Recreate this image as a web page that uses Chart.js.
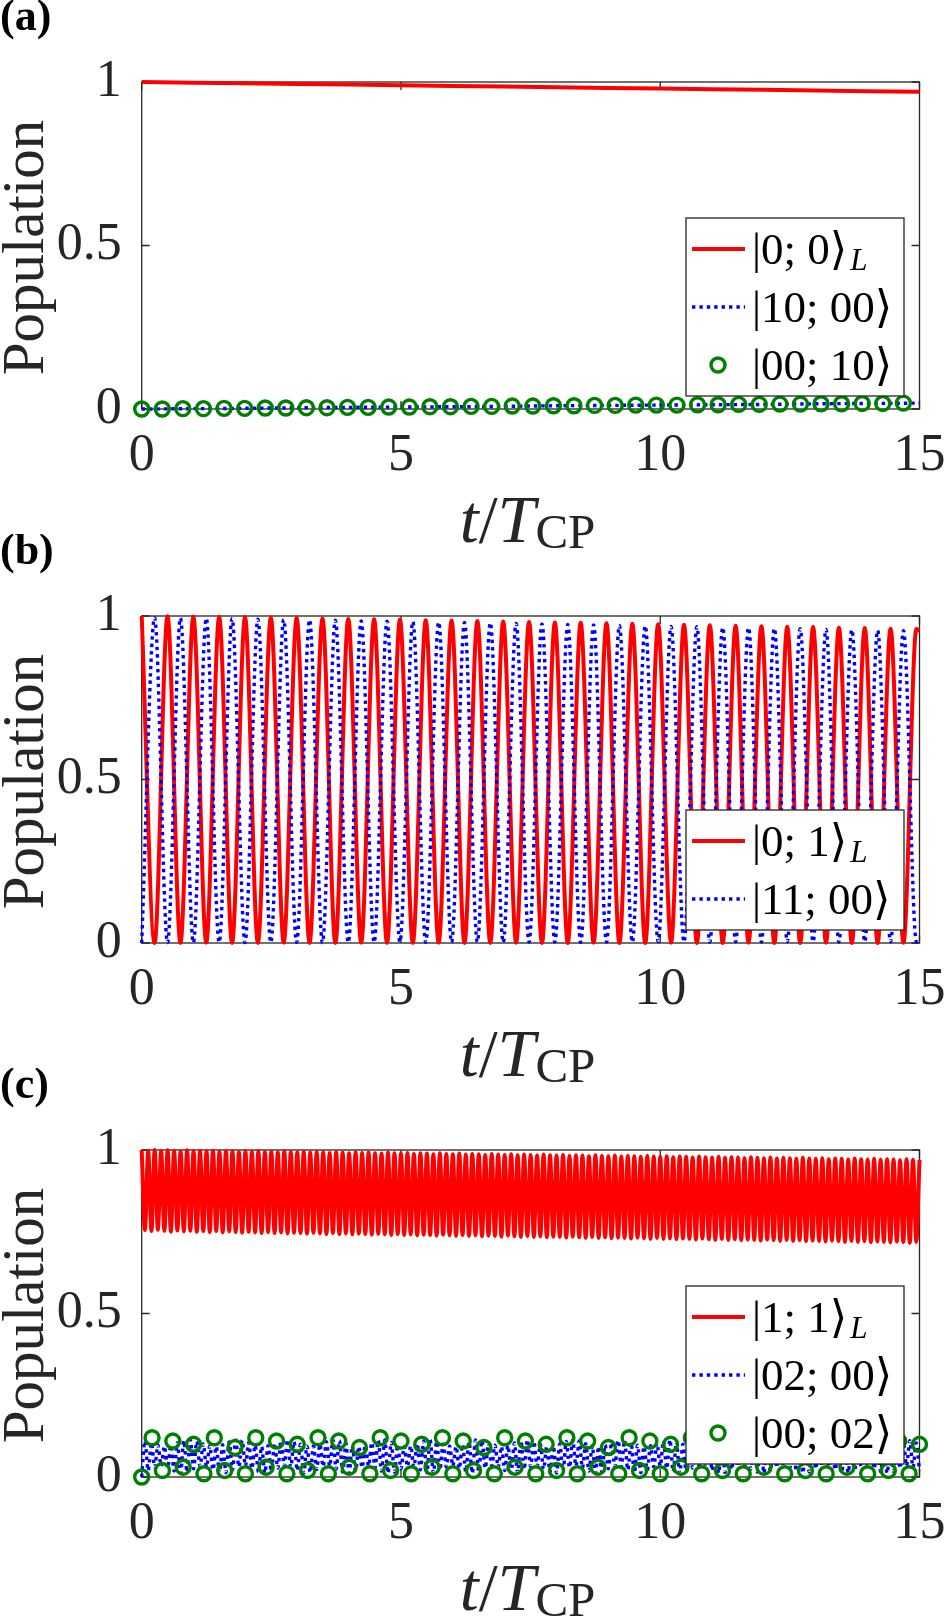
<!DOCTYPE html>
<html><head><meta charset="utf-8">
<script src="https://cdn.jsdelivr.net/npm/chart.js@4.4.0/dist/chart.umd.min.js"></script>
<style>
html,body{margin:0;padding:0;background:#fff;}
#wrap{position:relative;width:950px;height:1618px;overflow:hidden;background:#fff;}
canvas{position:absolute;left:0;}
</style></head><body>
<div id="wrap">
<canvas id="ca" width="950" height="580" style="top:0;width:950px;height:580px"></canvas>
<canvas id="cb" width="950" height="580" style="top:534px;width:950px;height:580px"></canvas>
<canvas id="cc" width="950" height="550" style="top:1068px;width:950px;height:550px"></canvas>
</div>
<script>
// ---------- axes ----------
const xTicks = [0, 5, 10, 15];
const xTickLabels = ['0', '5', '10', '15'];
const yTicks = [0, 0.5, 1];
const yTickLabels = ['0', '0.5', '1'];

// ---------- panel (a) ----------
const timeA = [0,1,2,3,4,5,6,7,8,9,10,11,12,13,14,15];
const redA  = [1.000,0.998,0.996,0.994,0.992,0.990,0.988,0.986,0.984,0.982,0.980,0.978,0.976,0.974,0.972,0.970];
const blueA = [0.000,0.001,0.002,0.004,0.005,0.006,0.007,0.008,0.010,0.011,0.012,0.013,0.014,0.016,0.017,0.018];
const greenStepA = 0.397;
const greenA = [0.000,0.000,0.001,0.001,0.002,0.002,0.003,0.003,0.004,0.004,0.005,0.005,0.006,0.006,0.007,0.007,0.008,0.008,0.009,0.009,
                0.010,0.010,0.011,0.011,0.012,0.012,0.012,0.013,0.013,0.014,0.014,0.015,0.015,0.016,0.016,0.017,0.017,0.018];

// ---------- panel (b) : extrema of the oscillation ----------
const halfPeriodB = 0.249;
const redPeaksB = [1.000,0.999,0.998,0.997,0.996,0.995,0.994,0.992,0.991,0.990,0.989,0.987,0.986,0.985,0.983,0.982,
                   0.980,0.979,0.978,0.976,0.975,0.973,0.972,0.970,0.969,0.967,0.966,0.964,0.963,0.961,0.960];
const redTroughsB = [0.000,0.000,0.001,0.000,0.000,0.001,0.000,0.000,0.001,0.000,0.000,0.001,0.000,0.000,0.001,
                     0.000,0.000,0.001,0.000,0.000,0.001,0.000,0.000,0.001,0.000,0.000,0.001,0.000,0.000,0.001];
const bluePeaksB = [0.995,0.994,0.993,0.992,0.990,0.989,0.988,0.987,0.985,0.984,0.983,0.981,0.980,0.979,0.977,
                    0.976,0.974,0.973,0.971,0.970,0.968,0.967,0.965,0.964,0.962,0.961,0.959,0.958,0.956,0.955];
const blueTroughsB = [0.000,0.001,0.001,0.002,0.001,0.002,0.002,0.001,0.002,0.002,0.003,0.002,0.002,0.003,0.002,0.003,
                      0.003,0.002,0.003,0.003,0.004,0.003,0.003,0.004,0.003,0.004,0.004,0.003,0.004,0.004,0.004];
const endTimeB = 15, endRedB = 0.955, endBlueB = 0.005;

// ---------- panel (c) : extrema of the oscillation ----------
const halfPeriodC = 0.0625;
const redPeaksC = [
1.000,0.998,1.000,0.997,0.999,0.998,0.996,0.999,0.997,0.998,
0.996,0.998,0.995,0.997,0.996,0.994,0.997,0.995,0.996,0.994,
0.995,0.993,0.996,0.994,0.993,0.995,0.992,0.994,0.993,0.991,
0.994,0.992,0.990,0.993,0.991,0.992,0.990,0.989,0.992,0.990,
0.989,0.991,0.988,0.990,0.989,0.987,0.990,0.988,0.987,0.989,
0.986,0.988,0.987,0.985,0.988,0.986,0.985,0.987,0.984,0.986,
0.985,0.983,0.986,0.984,0.983,0.985,0.982,0.984,0.983,0.981,
0.984,0.982,0.981,0.983,0.980,0.982,0.981,0.979,0.982,0.980,
0.979,0.981,0.978,0.980,0.979,0.977,0.980,0.978,0.977,0.979,
0.976,0.978,0.977,0.975,0.978,0.976,0.975,0.977,0.974,0.976,
0.975,0.973,0.976,0.974,0.973,0.975,0.972,0.974,0.973,0.971,
0.974,0.972,0.971,0.973,0.970,0.972,0.971,0.969,0.972,0.970,
0.970];
const redTroughsC = [
0.755,0.752,0.756,0.753,0.750,0.754,0.751,0.753,0.750,0.752,
0.749,0.752,0.748,0.751,0.749,0.747,0.750,0.748,0.746,0.749,
0.746,0.748,0.745,0.747,0.746,0.744,0.747,0.745,0.743,0.746,
0.743,0.745,0.742,0.744,0.743,0.741,0.744,0.742,0.740,0.743,
0.740,0.742,0.739,0.741,0.740,0.738,0.741,0.739,0.737,0.740,
0.737,0.739,0.736,0.738,0.737,0.735,0.738,0.736,0.734,0.737,
0.734,0.736,0.733,0.735,0.734,0.732,0.735,0.733,0.731,0.734,
0.731,0.733,0.730,0.732,0.731,0.729,0.732,0.730,0.728,0.731,
0.728,0.730,0.727,0.729,0.728,0.726,0.729,0.727,0.725,0.728,
0.725,0.727,0.724,0.726,0.725,0.723,0.726,0.724,0.722,0.725,
0.722,0.724,0.721,0.723,0.722,0.720,0.723,0.721,0.719,0.722,
0.719,0.721,0.718,0.720,0.719,0.717,0.720,0.718,0.716,0.719];
const blueLowC = [
0.000,0.020,0.030,0.034,0.028,0.018,0.012,0.015,0.025,0.033,
0.031,0.022,0.013,0.013,0.021,0.031,0.034,0.026,0.016,0.012,
0.017,0.027,0.034,0.030,0.020,0.012,0.014,0.023,0.032,0.033,
0.024,0.015,0.012,0.018,0.029,0.034,0.028,0.018,0.012,0.015,
0.025,0.033,0.031,0.022,0.013,0.013,0.021,0.031,0.034,0.026,
0.016,0.012,0.017,0.027,0.034,0.030,0.020,0.012,0.014,0.023,
0.032,0.033,0.024,0.015,0.012,0.018,0.029,0.034,0.028,0.018,
0.012,0.015,0.025,0.033,0.031,0.022,0.013,0.013,0.021,0.031,
0.034,0.026,0.016,0.012,0.017,0.027,0.034,0.030,0.020,0.012,
0.014,0.023,0.032,0.033,0.024,0.015,0.012,0.018,0.029,0.034,
0.028,0.018,0.012,0.015,0.025,0.033,0.031,0.022,0.013,0.013,
0.021,0.031,0.034,0.026,0.016,0.012,0.017,0.027,0.034,0.030,
0.020];
const blueHighC = [
0.110,0.105,0.098,0.094,0.097,0.104,0.111,0.114,0.109,0.101,
0.095,0.093,0.099,0.107,0.113,0.112,0.105,0.097,0.093,0.096,
0.103,0.110,0.114,0.108,0.100,0.094,0.094,0.100,0.108,0.113,
0.111,0.103,0.096,0.093,0.097,0.105,0.112,0.113,0.106,0.098,
0.093,0.095,0.102,0.110,0.114,0.109,0.101,0.095,0.093,0.099,
0.107,0.113,0.112,0.104,0.097,0.093,0.096,0.104,0.111,0.114,
0.108,0.100,0.094,0.094,0.101,0.109,0.113,0.110,0.102,0.095,
0.093,0.098,0.106,0.112,0.112,0.105,0.097,0.093,0.096,0.103,
0.110,0.114,0.108,0.100,0.094,0.095,0.101,0.109,0.113,0.110,
0.102,0.096,0.093,0.098,0.106,0.112,0.112,0.104,0.097,0.093,
0.097,0.104,0.111,0.113,0.107,0.099,0.094,0.095,0.102,0.110,
0.113,0.109,0.101,0.095,0.094,0.099,0.107,0.112,0.111,0.104];
const greenStepC = 0.2;
const greenC = [
0.00,0.12,0.02,0.11,0.03,0.10,0.01,0.12,0.02,0.09,
0.01,0.12,0.03,0.11,0.01,0.10,0.02,0.12,0.01,0.11,
0.03,0.09,0.01,0.12,0.02,0.11,0.01,0.10,0.03,0.12,
0.01,0.11,0.02,0.09,0.01,0.12,0.03,0.11,0.01,0.10,
0.02,0.12,0.01,0.11,0.03,0.09,0.01,0.12,0.02,0.11,
0.01,0.10,0.03,0.12,0.01,0.11,0.02,0.09,0.01,0.12,
0.03,0.11,0.01,0.10,0.02,0.12,0.01,0.11,0.03,0.09,
0.01,0.12,0.02,0.11,0.01,0.10];

// ---------- helpers ----------
const FONT = "'Liberation Serif','DejaVu Serif',serif";
const RED = '#ff0000', BLUE = '#0000ff', GREEN = '#008000', AX = '#262626';

function pairs(xs, ys){ return ys.map((v,i)=>({x:xs[i], y:v})); }
function stepped(step, ys){ return ys.map((v,i)=>({x:i*step, y:v})); }
// alternate "even" extrema (at 2k*h) and "odd" extrema (at (2k+1)*h)
function alternate(h, even, odd){
  const out = [];
  for (let k=0;k<even.length;k++){
    out.push({x:2*k*h, y:even[k]});
    if (k<odd.length) out.push({x:(2*k+1)*h, y:odd[k]});
  }
  return out;
}
function redSet(data, smooth){ return {data, showLine:true, borderColor:RED, borderWidth:4, pointRadius:0, clip:false, order:2,
  cubicInterpolationMode: smooth ? 'monotone' : 'default', tension:0}; }
function blueSet(data, smooth){ return {data, showLine:true, borderColor:BLUE, borderWidth:3.4, borderDash:[3.4,4], pointRadius:0, clip:false, order:1,
  cubicInterpolationMode: smooth ? 'monotone' : 'default', tension:0}; }
function greenSet(data){ return {data, showLine:false, pointRadius:7, pointBorderWidth:3.4, pointBorderColor:GREEN,
  pointBackgroundColor:'rgba(0,0,0,0)', pointStyle:'circle', clip:false, order:0}; }

function drawKet(ctx, x, y, main, sub){
  ctx.fillStyle = '#000';
  ctx.textBaseline = 'alphabetic';
  ctx.textAlign = 'left';
  ctx.font = "45px " + FONT;
  ctx.fillText(main, x, y + 15);
  if (sub){
    const w = ctx.measureText(main).width;
    ctx.font = "italic 31px " + FONT;
    ctx.fillText(sub, x + w + 3, y + 21);
  }
}

const decor = {
  id:'decor',
  beforeDatasetsDraw(chart){
    const {ctx, chartArea:a, scales:{x,y}} = chart;
    ctx.save();
    ctx.strokeStyle = AX; ctx.lineWidth = 1.3;
    ctx.strokeRect(a.left, a.top, a.right-a.left, a.bottom-a.top);
    ctx.beginPath();
    xTicks.forEach(v=>{ const p = x.getPixelForValue(v);
      ctx.moveTo(p, a.bottom); ctx.lineTo(p, a.bottom-8);
      ctx.moveTo(p, a.top); ctx.lineTo(p, a.top+8); });
    yTicks.forEach(v=>{ const p = y.getPixelForValue(v);
      ctx.moveTo(a.left, p); ctx.lineTo(a.left+8, p);
      ctx.moveTo(a.right, p); ctx.lineTo(a.right-8, p); });
    ctx.stroke();
    ctx.restore();
  },
  afterDraw(chart, args, opts){
    const {ctx, chartArea:a} = chart;
    ctx.save();
    // panel label
    ctx.fillStyle = '#000';
    ctx.font = "bold 44px " + FONT;
    ctx.textAlign = 'left'; ctx.textBaseline = 'alphabetic';
    ctx.fillText(opts.label, 0, a.top - 52);
    // y title
    ctx.save();
    ctx.translate(43, (a.top + a.bottom)/2 + 2);
    ctx.rotate(-Math.PI/2);
    ctx.font = "59px " + FONT;
    ctx.fillStyle = AX;
    ctx.textAlign = 'center';
    ctx.fillText('Population', 0, 0);
    ctx.restore();
    // x title  t/T_CP
    ctx.fillStyle = AX;
    const cx = (a.left + a.right)/2 - 3, by = a.bottom + 133;
    const parts = [
      {t:'t', f:"italic 68px "+FONT, dy:0},
      {t:'/', f:"68px "+FONT, dy:0},
      {t:'T', f:"italic 68px "+FONT, dy:0},
      {t:'CP', f:"49px "+FONT, dy:6}
    ];
    let total = 0;
    parts.forEach(p=>{ ctx.font = p.f; p.w = ctx.measureText(p.t).width; total += p.w; });
    let px = cx - total/2;
    ctx.textAlign = 'left';
    parts.forEach(p=>{ ctx.font = p.f; ctx.fillText(p.t, px, by + p.dy); px += p.w; });
    // legend
    const items = opts.items, n = items.length;
    const bw = 218, bh = 62 + (n-1)*58;
    const bx = a.right - 15.5 - bw, byb = a.bottom - 13 - bh;
    ctx.fillStyle = '#fff';
    ctx.fillRect(bx, byb, bw, bh);
    ctx.strokeStyle = AX; ctx.lineWidth = 1.3;
    ctx.strokeRect(bx, byb, bw, bh);
    items.forEach((it, i)=>{
      const ry = byb + 31 + i*58;
      ctx.save();
      if (it.type === 'line' || it.type === 'dot'){
        ctx.strokeStyle = it.color;
        ctx.lineWidth = it.type === 'line' ? 4 : 3.4;
        ctx.setLineDash(it.type === 'dot' ? [3.4,4] : []);
        ctx.beginPath(); ctx.moveTo(bx+6, ry); ctx.lineTo(bx+59, ry); ctx.stroke();
      } else {
        ctx.strokeStyle = it.color; ctx.lineWidth = 3.4;
        ctx.beginPath(); ctx.arc(bx+32, ry, 7, 0, Math.PI*2); ctx.stroke();
      }
      ctx.restore();
      drawKet(ctx, bx+66, ry, it.main, it.sub);
    });
    ctx.restore();
  }
};

function makeChart(id, datasets, items, label, bottomPad){
  return new Chart(document.getElementById(id), {
    type:'scatter',
    data:{datasets},
    options:{
      responsive:false, animation:false, devicePixelRatio:1,
      layout:{padding:{top:82, left:0, right:30.5, bottom:bottomPad}},
      plugins:{legend:{display:false}, tooltip:{enabled:false}, decor:{items, label}},
      scales:{
        x:{type:'linear', min:0, max:15,
           afterBuildTicks(s){ s.ticks = xTicks.map(v=>({value:v})); },
           afterFit(s){ s.height = 125; s.paddingLeft = 0; s.paddingRight = 0; },
           grid:{display:false, drawTicks:false}, border:{display:false},
           ticks:{font:{family:FONT, size:52}, color:AX, padding:16, maxRotation:0, autoSkip:false,
                  callback:(v)=>xTickLabels[xTicks.indexOf(v)]}},
        y:{type:'linear', min:0, max:1,
           afterBuildTicks(s){ s.ticks = yTicks.map(v=>({value:v})); },
           afterFit(s){ s.width = 141.7; s.paddingTop = 0; s.paddingBottom = 0; },
           grid:{display:false, drawTicks:false}, border:{display:false},
           ticks:{font:{family:FONT, size:52}, color:AX, padding:20, autoSkip:false,
                  callback:(v)=>yTickLabels[yTicks.indexOf(v)]}}
      }
    },
    plugins:[decor]
  });
}

const redB = alternate(halfPeriodB, redPeaksB, redTroughsB);
redB.push({x:endTimeB, y:endRedB});
const blueB = alternate(halfPeriodB, blueTroughsB, bluePeaksB);
blueB.push({x:endTimeB, y:endBlueB});

makeChart('ca', [
  redSet(pairs(timeA, redA), false),
  blueSet(pairs(timeA, blueA), false),
  greenSet(stepped(greenStepA, greenA))
], [
  {type:'line', color:RED, main:'|0; 0\u27E9', sub:'L'},
  {type:'dot', color:BLUE, main:'|10; 00\u27E9'},
  {type:'circle', color:GREEN, main:'|00; 10\u27E9'}
], '(a)', 46);

makeChart('cb', [
  redSet(redB, true),
  blueSet(blueB, true)
], [
  {type:'line', color:RED, main:'|0; 1\u27E9', sub:'L'},
  {type:'dot', color:BLUE, main:'|11; 00\u27E9'}
], '(b)', 46);

makeChart('cc', [
  redSet(alternate(halfPeriodC, redPeaksC, redTroughsC), true),
  blueSet(alternate(halfPeriodC, blueLowC, blueHighC), true),
  greenSet(stepped(greenStepC, greenC))
], [
  {type:'line', color:RED, main:'|1; 1\u27E9', sub:'L'},
  {type:'dot', color:BLUE, main:'|02; 00\u27E9'},
  {type:'circle', color:GREEN, main:'|00; 02\u27E9'}
], '(c)', 16);
</script>
</body></html>
